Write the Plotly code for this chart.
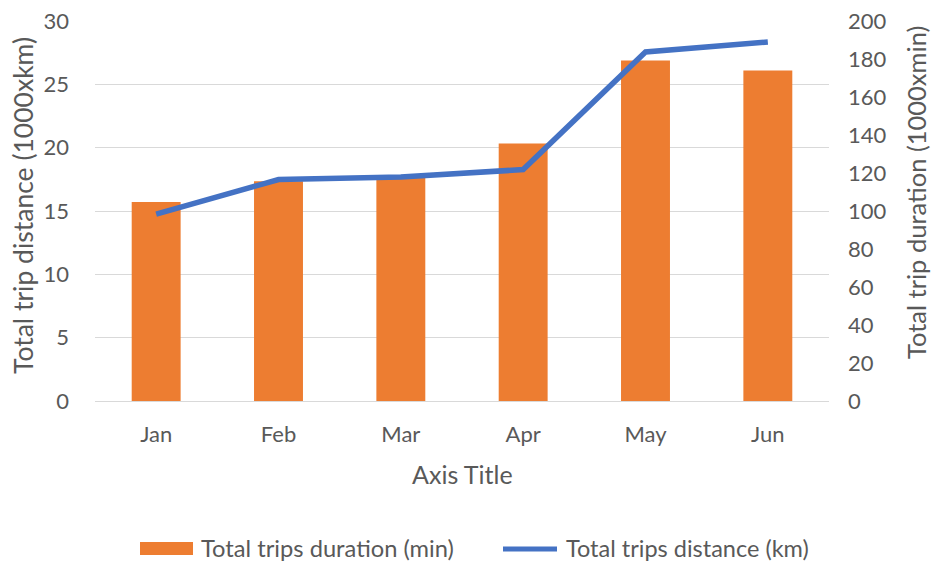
import plotly.graph_objects as go

months = ["Jan", "Feb", "Mar", "Apr", "May", "Jun"]
duration_1000min = [104.7, 115.7, 117.5, 135.5, 179.2, 173.9]
distance_1000km = [14.75, 17.48, 17.69, 18.27, 27.55, 28.34]

bar_name = "Total trips duration (min)"
line_name = "Total trips distance (km)"

FONT = "Lato"
GREY = "#595959"
ORANGE = "#ED7D31"
BLUE = "#4472C4"
GRID = "#D9D9D9"
FS = 22

fig = go.Figure()
# bars on the primary (right-side) axis so the line overlay is drawn on top
fig.add_trace(go.Bar(x=months, y=duration_1000min, name=bar_name,
                     marker=dict(color=ORANGE, line=dict(width=0)),
                     yaxis="y", showlegend=False))
fig.add_trace(go.Scatter(x=months, y=distance_1000km, name=line_name,
                         mode="lines", line=dict(color=BLUE, width=5.5),
                         yaxis="y2", showlegend=False))

fig.update_layout(
    width=931, height=562,
    margin=dict(l=95, r=102, t=21, b=161, autoexpand=False),
    paper_bgcolor="white", plot_bgcolor="white",
    font=dict(family=FONT, size=FS, color=GREY),
    bargap=0.6,
    xaxis=dict(type="category", showgrid=False, showline=True, linecolor=GRID,
               linewidth=1, ticks="", ticklabelstandoff=14, automargin=False,
               tickfont=dict(size=FS, color=GREY)),
    yaxis=dict(range=[0, 200], dtick=20, side="right",
               showgrid=False, zeroline=False, showline=False, ticks="",
               ticklabelstandoff=18, automargin=False,
               tickfont=dict(size=FS, color=GREY)),
    yaxis2=dict(range=[0, 30], dtick=5, overlaying="y", side="left",
                showgrid=True, gridcolor=GRID, gridwidth=1, zeroline=False,
                showline=False, ticks="", ticklabelstandoff=25, automargin=False,
                tickfont=dict(size=FS, color=GREY)),
)

# Axis titles
fig.add_annotation(text="Axis Title", xref="paper", yref="paper", x=0.5, y=0,
                   yshift=-73, xanchor="center", yanchor="middle",
                   showarrow=False, font=dict(size=25, color=GREY))
fig.add_annotation(text="Total trip distance (1000xkm)", xref="paper", yref="paper",
                   x=0, y=0.5, xshift=-72, yshift=5, textangle=-90,
                   xanchor="center", yanchor="middle", showarrow=False,
                   font=dict(size=26.5, color=GREY))
fig.add_annotation(text="Total trip duration (1000xmin)", xref="paper", yref="paper",
                   x=1, y=0.5, xshift=87, yshift=18, textangle=-90,
                   xanchor="center", yanchor="middle", showarrow=False,
                   font=dict(size=25.5, color=GREY))

# Custom legend
fig.add_shape(type="rect", xref="paper", yref="paper",
              xsizemode="pixel", ysizemode="pixel", xanchor=0, yanchor=0,
              x0=45, x1=98, y0=-154, y1=-141,
              fillcolor=ORANGE, line=dict(width=0))
fig.add_shape(type="line", xref="paper", yref="paper",
              xsizemode="pixel", ysizemode="pixel", xanchor=0, yanchor=0,
              x0=408, x1=462, y0=-148, y1=-148,
              line=dict(color=BLUE, width=5))
fig.add_annotation(text=bar_name, xref="paper", yref="paper", x=0, y=0,
                   xshift=104, yshift=-147, xanchor="left", yanchor="middle",
                   showarrow=False, font=dict(size=23.7, color=GREY))
fig.add_annotation(text=line_name, xref="paper", yref="paper", x=0, y=0,
                   xshift=469, yshift=-147, xanchor="left", yanchor="middle",
                   showarrow=False, font=dict(size=23.5, color=GREY))

fig.write_html("out.html")
